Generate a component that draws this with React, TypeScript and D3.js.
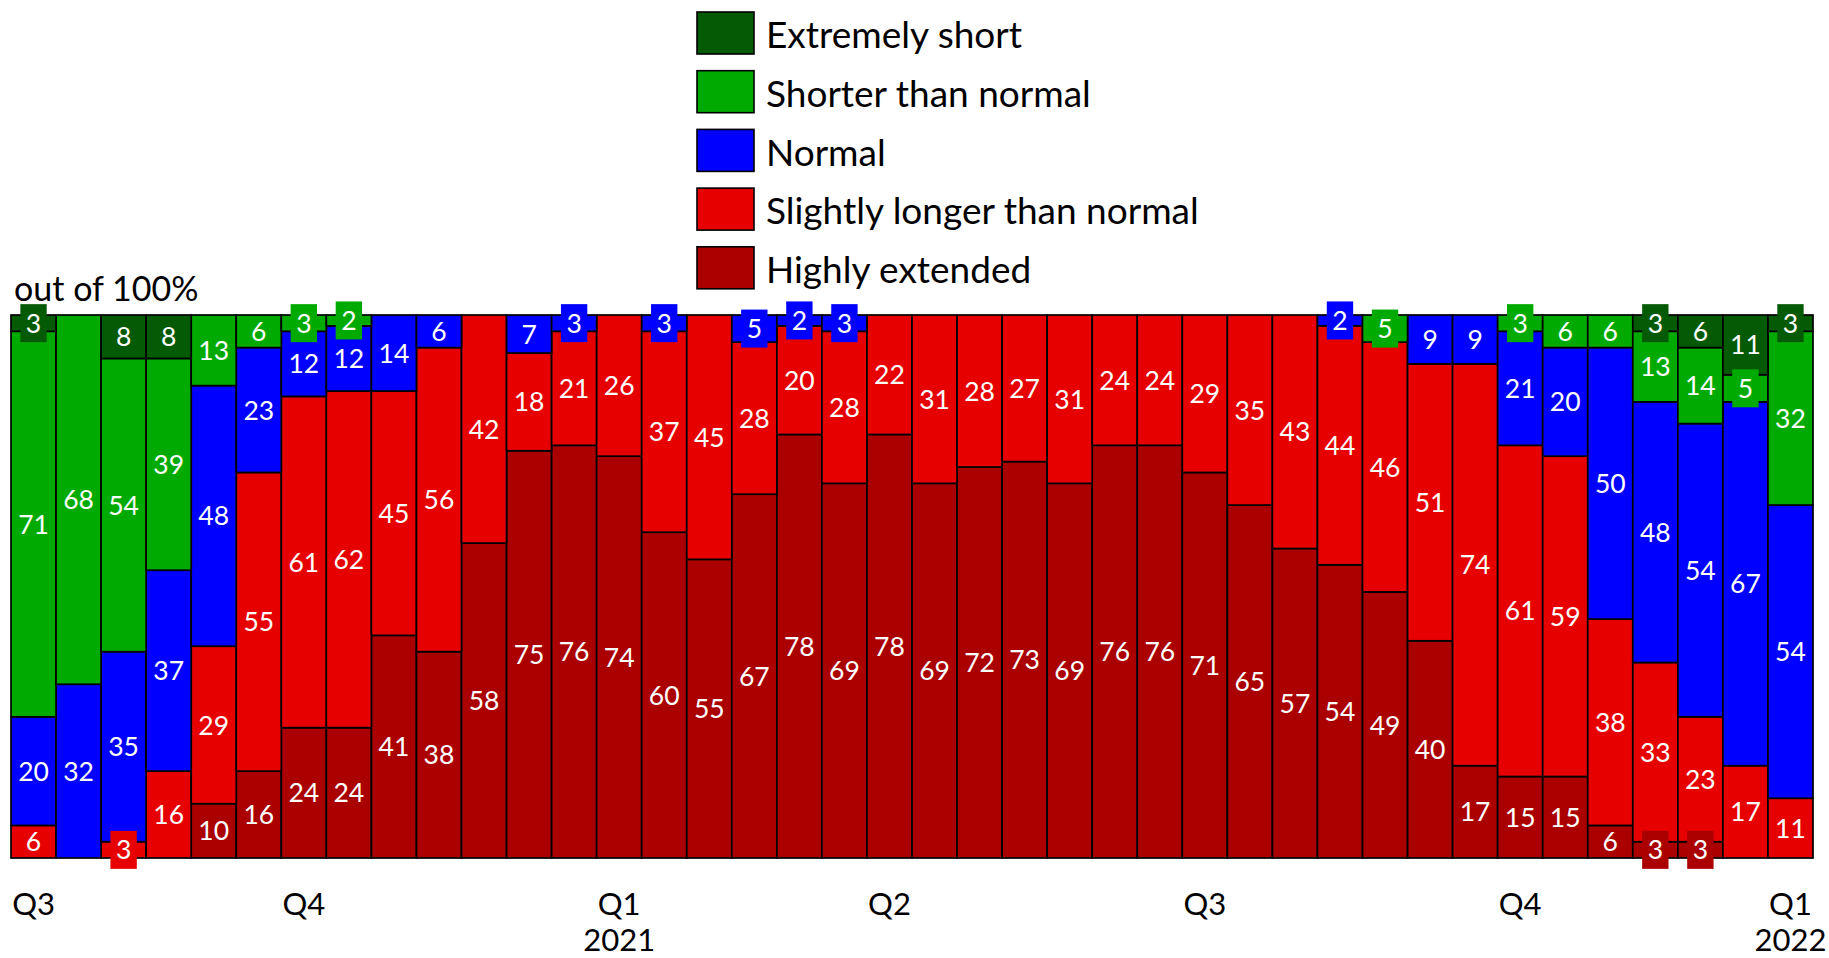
import React from "react";
import * as d3 from "d3";

const barIds = d3.range(1, 41);
const extremelyShort = [3,0,8,8,0,0,0,0,0,0, 0,0,0,0,0,0,0,0,0,0, 0,0,0,0,0,0,0,0,0,0, 0,0,0,0,0,0,3,6,11,3];
const shorterThanNormal = [71,68,54,39,13,6,3,2,0,0, 0,0,0,0,0,0,0,0,0,0, 0,0,0,0,0,0,0,0,0,0, 5,0,0,3,6,6,13,14,5,32];
const normal = [20,32,35,37,48,23,12,12,14,6, 0,7,3,0,3,0,5,2,3,0, 0,0,0,0,0,0,0,0,0,2, 0,9,9,21,20,50,48,54,67,54];
const slightlyLonger = [6,0,3,16,29,55,61,62,45,56, 42,18,21,26,37,45,28,20,28,22, 31,28,27,31,24,24,29,35,43,44, 46,51,74,61,59,38,33,23,17,11];
const highlyExtended = [0,0,0,0,10,16,24,24,41,38, 58,75,76,74,60,55,67,78,69,78, 69,72,73,69,76,76,71,65,57,54, 49,40,17,15,15,6,3,3,0,0];

const seriesNames = ["Extremely short", "Shorter than normal", "Normal", "Slightly longer than normal", "Highly extended"];
const seriesColors = ["#055A05", "#00AA00", "#0000FF", "#E60000", "#AA0000"];
const seriesValues = [extremelyShort, shorterThanNormal, normal, slightlyLonger, highlyExtended];

const tickBars = [1, 7, 14, 20, 27, 34, 40];
const tickQuarters = ["Q3", "Q4", "Q1", "Q2", "Q3", "Q4", "Q1"];
const tickYears = ["", "", "2021", "", "", "", "2022"];

const W = 1829, H = 958;
const FONT = "Lato, 'Open Sans', sans-serif";

export default function App() {
  const x = d3.scaleBand<number>().domain(barIds).range([11, 1813]).paddingInner(0).paddingOuter(0);
  const y = d3.scaleLinear().domain([0, 100]).range([858, 315]);

  // stack bottom-up: Highly extended at bottom ... Extremely short on top
  const keys = [4, 3, 2, 1, 0];
  const rows = barIds.map((id, i) => {
    const r: any = { id };
    keys.forEach((k) => (r[k] = seriesValues[k][i]));
    return r;
  });
  const stack = d3.stack<any>().keys(keys.map(String));
  const layers = stack(rows);

  const segs: { id: number; k: number; v: number; y0: number; y1: number }[] = [];
  layers.forEach((layer, li) => {
    const k = keys[li];
    layer.forEach((d, i) => {
      const v = seriesValues[k][i];
      if (v > 0) segs.push({ id: barIds[i], k, v, y0: d[0], y1: d[1] });
    });
  });

  const labelSize = 26.5;
  const axisSize = 31;
  const titleSize = 34;
  const legendSize = 37;

  return (
    <div style={{ position: "fixed", left: 0, top: 0, width: W, height: H, background: "#fff" }}>
      <svg width={W} height={H} style={{ display: "block" }} fontFamily={FONT}>
        {segs.map((s, i) => (
          <rect
            key={"r" + i}
            x={x(s.id)!}
            width={x.bandwidth()}
            y={y(s.y1)}
            height={y(s.y0) - y(s.y1)}
            fill={seriesColors[s.k]}
            stroke="#000"
            strokeWidth={1.7}
          />
        ))}
        {segs.map((s, i) => {
          const cx = x(s.id)! + x.bandwidth() / 2;
          const cy = (y(s.y0) + y(s.y1)) / 2;
          const txt = String(s.v);
          const bw = txt.length * labelSize * 0.58 + 11;
          return (
            <g key={"l" + i}>
              {s.v <= 5 && (
                <rect x={cx - bw / 2} y={cy - 19} width={bw} height={38} fill={seriesColors[s.k]} />
              )}
              <text x={cx} y={cy} dy="0.36em" textAnchor="middle" fill="#fff" fontSize={labelSize}>
                {txt}
              </text>
            </g>
          );
        })}
        {tickBars.map((b, i) => (
          <g key={"t" + i}>
            <text x={x(b)! + x.bandwidth() / 2} y={915} textAnchor="middle" fontSize={axisSize} fill="#000">
              {tickQuarters[i]}
            </text>
            {tickYears[i] && (
              <text x={x(b)! + x.bandwidth() / 2} y={951} textAnchor="middle" fontSize={axisSize} fill="#000">
                {tickYears[i]}
              </text>
            )}
          </g>
        ))}
        <text x={14} y={301} fontSize={titleSize} fill="#000">out of 100%</text>
        {seriesNames.map((n, i) => (
          <g key={"g" + i} transform={`translate(697, ${12 + i * 58.7})`}>
            <rect width={57} height={42} fill={seriesColors[i]} stroke="#000" strokeWidth={1.6} />
            <text x={69} y={23} dy="0.36em" fontSize={legendSize} fill="#000">{n}</text>
          </g>
        ))}
      </svg>
    </div>
  );
}
